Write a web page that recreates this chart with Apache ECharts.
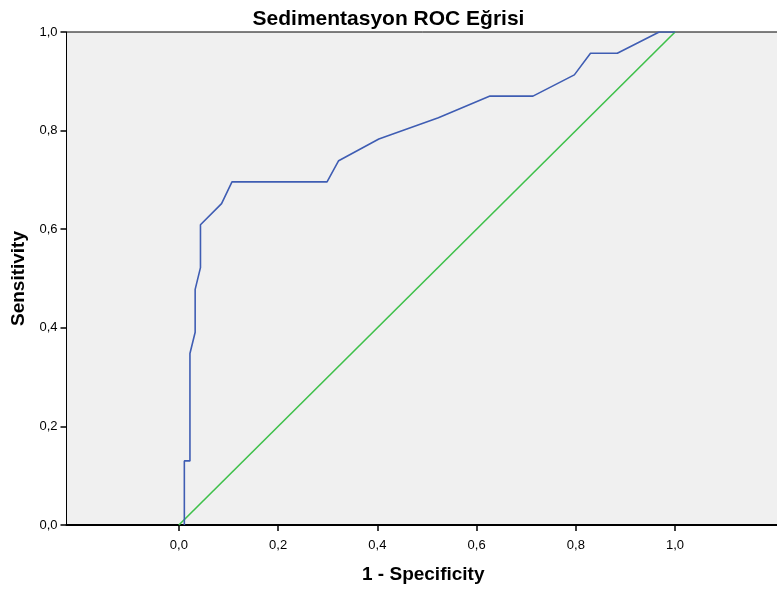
<!DOCTYPE html>
<html>
<head>
<meta charset="utf-8">
<script src="https://cdn.jsdelivr.net/npm/echarts@6/dist/echarts.min.js"></script>
<style>
  html, body { margin: 0; padding: 0; background: #ffffff; }
  #chart { width: 777px; height: 592px; }
</style>
</head>
<body>
<div id="chart"></div>
<script>
// ROC curve of sedimentation rate: [1 - specificity, sensitivity]
var rocFpr = [0.011, 0.011, 0.0223, 0.0223, 0.0328, 0.0328, 0.0435, 0.0435, 0.086, 0.107, 0.2986, 0.322, 0.403, 0.523, 0.627, 0.7136, 0.797, 0.8296, 0.8836, 0.968, 1.0];
var rocTpr = [0.0, 0.130, 0.130, 0.348, 0.391, 0.478, 0.522, 0.609, 0.652, 0.696, 0.696, 0.739, 0.783, 0.826, 0.870, 0.870, 0.913, 0.957, 0.957, 1.0, 1.0];
// Reference (chance) line
var refX = [0, 1];
var refY = [0, 1];
// Tick positions on both axes
var tickValues = [0, 0.2, 0.4, 0.6, 0.8, 1.0];

function pairs(xs, ys) {
  return xs.map(function (x, i) { return [x, ys[i]]; });
}
function fmt(v) {
  return v.toFixed(1).replace('.', ',');
}

var chart = echarts.init(document.getElementById('chart'), null, { renderer: 'canvas' });
var fontFamily = '"Liberation Sans", Arial, sans-serif';

chart.setOption({
  animation: false,
  title: {
    text: 'Sedimentasyon ROC Eğrisi',
    left: 'center',
    top: 4,
    textStyle: { fontFamily: fontFamily, fontSize: 21, fontWeight: 'bold', color: '#000' }
  },
  grid: {
    left: 66.5,
    top: 32,
    right: -3,
    bottom: 67,
    containLabel: false,
    outerBoundsMode: 'none',
    show: true,
    backgroundColor: '#f0f0f0',
    borderColor: '#000',
    borderWidth: 1
  },
  xAxis: {
    type: 'value',
    min: -0.2265,
    max: 1.2115,
    name: '1 - Specificity',
    nameLocation: 'middle',
    nameGap: 40,
    nameMoveOverlap: false,
    nameTextStyle: { fontFamily: fontFamily, fontSize: 19, fontWeight: 'bold', color: '#000' },
    splitLine: { show: false },
    axisLine: { show: true, onZero: false, lineStyle: { color: '#000', width: 2 } },
    axisTick: { show: true, length: 6, customValues: tickValues, lineStyle: { color: '#000', width: 1.5 } },
    axisLabel: {
      customValues: tickValues,
      margin: 14,
      fontFamily: fontFamily, fontSize: 13, color: '#000',
      formatter: fmt
    }
  },
  yAxis: {
    type: 'value',
    min: 0,
    max: 1,
    name: 'Sensitivity',
    nameLocation: 'middle',
    nameGap: 38,
    nameMoveOverlap: false,
    nameTextStyle: { fontFamily: fontFamily, fontSize: 19, fontWeight: 'bold', color: '#000' },
    splitLine: { show: false },
    axisLine: { show: true, onZero: false, lineStyle: { color: '#000', width: 1 } },
    axisTick: { show: true, length: 6, customValues: tickValues, lineStyle: { color: '#000', width: 1.5 } },
    axisLabel: {
      customValues: tickValues,
      margin: 9,
      fontFamily: fontFamily, fontSize: 13, color: '#000',
      formatter: fmt
    }
  },
  series: [
    {
      name: 'Reference',
      type: 'line',
      data: pairs(refX, refY),
      symbol: 'none',
      lineStyle: { color: '#3ec04a', width: 1.6 },
      z: 2
    },
    {
      name: 'Sedimentasyon',
      type: 'line',
      data: pairs(rocFpr, rocTpr),
      symbol: 'none',
      lineStyle: { color: '#3f5db3', width: 1.6 },
      z: 3
    }
  ]
});
</script>
</body>
</html>
